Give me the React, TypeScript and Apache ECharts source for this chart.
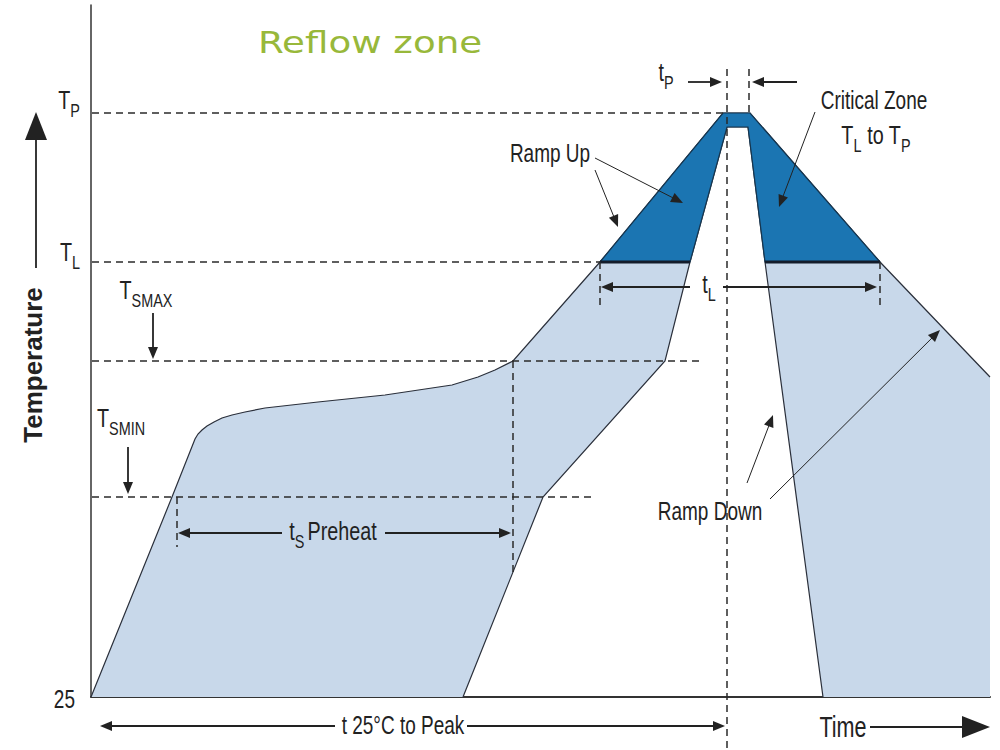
import React, { useEffect, useRef } from "react";
import * as echarts from "echarts";

type Pt = [number, number];
type Seg = [number, number, number, number];

// Axis ranges (time units from start, temperature units above the 25 °C baseline)
const TIME_MAX = 899;
const TEMP_MAX = 692;

// Temperature levels
const T_AMBIENT = 0;
const T_SMIN = 200;
const T_SMAX = 336;
const T_L = 435;
const T_P = 584;
const T_NOTCH = 570;

// Upper/outer boundary of the allowed profile band (left to right)
const OUTER_EDGE: Pt[] = [
  [0, T_AMBIENT], [81, T_SMIN], [104, 258], [107, 263], [111, 267], [116, 271],
  [123, 275], [131, 279], [141, 282], [154, 285], [174, 289], [227, 295],
  [294, 302], [361, 312], [387, 320], [404, 327], [422, T_SMAX], [509, T_L],
  [632, T_P], [659, T_P], [789, T_L], [899, 320],
];
const BAND_CORNER: Pt = [899, T_AMBIENT];
// Lower/inner boundary of the band (right to left)
const INNER_EDGE: Pt[] = [
  [732, T_AMBIENT], [674, T_L], [657, T_NOTCH], [636, T_NOTCH], [599, T_L],
  [574, T_SMAX], [452, T_SMIN], [372, T_AMBIENT],
];
// Critical zone TL..TP
const CRITICAL_ZONE: Pt[] = [
  [509, T_L], [632, T_P], [659, T_P], [789, T_L], [674, T_L], [657, T_NOTCH], [636, T_NOTCH], [599, T_L],
];
const TL_EDGES: Seg[] = [
  [509, T_L, 599, T_L],
  [674, T_L, 789, T_L],
];

const DASHED_LINES: Seg[] = [
  [1, T_P, 632, T_P],
  [1, T_L, 509, T_L],
  [1, T_SMAX, 613, T_SMAX],
  [1, T_SMIN, 501, T_SMIN],
  [86, T_SMIN, 86, 150],
  [422, T_SMAX, 422, 124],
  [509, T_L, 509, 392],
  [789, T_L, 789, 392],
  [636, 628, 636, -53],
  [658, 628, 658, T_P],
];

// Arrows: start x, start y, tip x, tip y
const DIM_ARROWS: Seg[] = [
  [597, 615, 631, 615],
  [706, 615, 661, 615],
  [599, 410, 510, 410],
  [632, 410, 786, 410],
  [191, 164, 87, 164],
  [294, 164, 420, 164],
  [244, -29, 9, -29],
  [376, -29, 634, -29],
  [62, 384, 62, 338],
  [37, 250, 37, 203],
];
const AXIS_ARROWS: Seg[] = [
  [-55, 429, -55, 585],
  [779, -30, 899, -30],
];
const POINTER_ARROWS: Seg[] = [
  [504, 539, 592, 494],
  [504, 527, 527, 470],
  [724, 585, 688, 490],
  [656, 214, 682, 282],
  [679, 198, 849, 367],
];

type Label = { text: string; x: number; y: number; kind: string };
const LABELS: Label[] = [
  { text: "{t|T}{s|P}", x: -11, y: 597, kind: "tick" },
  { text: "{t|T}{s|L}", x: -11, y: 445, kind: "tick" },
  { text: "25", x: -16, y: -3, kind: "tick" },
  { text: "{t|T}{s|SMAX}", x: 55, y: 407, kind: "note" },
  { text: "{t|T}{s|SMIN}", x: 30, y: 279, kind: "note" },
  { text: "{t|t}{s|P}", x: 575, y: 625, kind: "note" },
  { text: "{t|t}{s|L}", x: 618, y: 413, kind: "note" },
  { text: "{t|t}{s|S}{g|Preheat}", x: 242, y: 166, kind: "note" },
  { text: "Ramp Up", x: 459, y: 543, kind: "note" },
  { text: "Critical Zone", x: 783, y: 596, kind: "note" },
  { text: "{t|T}{s|L}{t| to T}{s|P}", x: 785, y: 562, kind: "note" },
  { text: "Ramp Down", x: 619, y: 185, kind: "note" },
  { text: "t 25°C to Peak", x: 312, y: -29, kind: "note" },
  { text: "Time", x: 752, y: -30, kind: "time" },
  { text: "Temperature", x: -58, y: 332, kind: "axisTitle" },
  { text: "Reflow zone", x: 279, y: 655, kind: "title" },
];

const FONT = '"Liberation Sans", Arial, sans-serif';
const INK = "#222222";
const LIGHT = "#c8d8ea";
const DARK = "#1b75b2";
const EDGE = "#2a2f3a";

const KIND_STYLE: Record<string, any> = {
  tick: { fontSize: 25, scaleX: 0.76, align: "right", fill: INK, fontFamily: FONT, fontWeight: "normal" },
  note: { fontSize: 25, scaleX: 0.76, align: "center", fill: INK, fontFamily: FONT, fontWeight: "normal" },
  time: { fontSize: 30, scaleX: 0.72, align: "center", fill: INK, fontFamily: FONT, fontWeight: "normal" },
  axisTitle: { fontSize: 26, scaleX: 1, align: "center", fill: INK, fontFamily: FONT, fontWeight: "bold", rotation: Math.PI / 2 },
  title: { fontSize: 31, scaleX: 1.2, align: "center", fill: "#98b83a", fontFamily: '"DejaVu Sans", sans-serif', fontWeight: "normal" },
};

const RICH = {
  t: { fontSize: 26, lineHeight: 26, verticalAlign: "top", fontFamily: FONT, fill: INK },
  g: { fontSize: 26, lineHeight: 26, verticalAlign: "top", fontFamily: FONT, fill: INK, padding: [0, 0, 0, 4] },
  s: { fontSize: 19, lineHeight: 48, fontFamily: FONT, fill: INK },
};

function polygonSeries(name: string, points: Pt[], fill: string, stroke: string | null, z: number) {
  return {
    type: "custom",
    name,
    z,
    silent: true,
    data: [[0, 0]],
    renderItem: (_p: any, api: any) => ({
      type: "polygon",
      shape: { points: points.map((q) => api.coord(q)) },
      style: { fill, stroke: stroke || "none", lineWidth: stroke ? 1.2 : 0 },
    }),
  };
}

function segmentSeries(name: string, rows: Seg[], stroke: string, width: number, dash: number[] | null, z: number) {
  return {
    type: "custom",
    name,
    z,
    silent: true,
    data: rows,
    renderItem: (_p: any, api: any) => {
      const a = api.coord([api.value(0), api.value(1)]);
      const b = api.coord([api.value(2), api.value(3)]);
      return {
        type: "line",
        shape: { x1: a[0], y1: a[1], x2: b[0], y2: b[1] },
        style: { stroke, lineWidth: width, lineDash: dash || undefined },
      };
    },
  };
}

function arrowSeries(name: string, rows: Seg[], len: number, halfW: number, width: number, z: number) {
  return {
    type: "custom",
    name,
    z,
    silent: true,
    data: rows,
    renderItem: (_p: any, api: any) => {
      const a = api.coord([api.value(0), api.value(1)]);
      const b = api.coord([api.value(2), api.value(3)]);
      const dx = b[0] - a[0];
      const dy = b[1] - a[1];
      const d = Math.hypot(dx, dy) || 1;
      const ux = dx / d;
      const uy = dy / d;
      const bx = b[0] - ux * len;
      const by = b[1] - uy * len;
      const nx = -uy;
      const ny = ux;
      return {
        type: "group",
        children: [
          { type: "line", shape: { x1: a[0], y1: a[1], x2: bx + ux * 2, y2: by + uy * 2 }, style: { stroke: INK, lineWidth: width } },
          {
            type: "polygon",
            shape: { points: [[b[0], b[1]], [bx + nx * halfW, by + ny * halfW], [bx - nx * halfW, by - ny * halfW]] },
            style: { fill: INK },
          },
        ],
      };
    },
  };
}

const option: any = {
  animation: false,
  backgroundColor: "#ffffff",
  grid: { left: 91, right: 10, top: 5, bottom: 53 },
  xAxis: {
    type: "value",
    min: 0,
    max: TIME_MAX,
    axisLine: { show: true, lineStyle: { color: "#333", width: 2 } },
    axisTick: { show: false },
    axisLabel: { show: false },
    splitLine: { show: false },
  },
  yAxis: {
    type: "value",
    min: 0,
    max: TEMP_MAX,
    axisLine: { show: true, lineStyle: { color: "#333", width: 1.5 } },
    axisTick: { show: false },
    axisLabel: { show: false },
    splitLine: { show: false },
  },
  series: [
    {
      type: "custom",
      name: "Profile band",
      z: 1,
      silent: true,
      data: [[0, 0]],
      renderItem: (_p: any, api: any) => {
        const band = [...OUTER_EDGE, BAND_CORNER, ...INNER_EDGE].map((q) => api.coord(q));
        return {
          type: "group",
          children: [
            { type: "polygon", shape: { points: band }, style: { fill: LIGHT } },
            { type: "polyline", shape: { points: OUTER_EDGE.map((q) => api.coord(q)) }, style: { stroke: EDGE, lineWidth: 1.2, fill: "none" } },
            { type: "polyline", shape: { points: INNER_EDGE.map((q) => api.coord(q)) }, style: { stroke: EDGE, lineWidth: 1.2, fill: "none" } },
          ],
        };
      },
    },
    polygonSeries("Critical zone", CRITICAL_ZONE, DARK, "#163650", 2),
    segmentSeries("TL edge", TL_EDGES, "#131c2b", 3, null, 3),
    segmentSeries("Guides", DASHED_LINES, "#2a2a2a", 1.5, [7, 5], 4),
    arrowSeries("Dimension arrows", DIM_ARROWS, 12, 5, 1.8, 5),
    arrowSeries("Axis arrows", AXIS_ARROWS, 28, 11, 1.8, 5),
    arrowSeries("Pointers", POINTER_ARROWS, 12, 5, 1, 5),
    {
      type: "custom",
      name: "Labels",
      z: 6,
      silent: true,
      data: LABELS.map((l) => [l.x, l.y]),
      renderItem: (params: any, api: any) => {
        const l = LABELS[params.dataIndex];
        const k = KIND_STYLE[l.kind];
        const p = api.coord([api.value(0), api.value(1)]);
        const rich = l.text.indexOf("{") >= 0;
        return {
          type: "text",
          x: p[0],
          y: rich ? p[1] - 13 : p[1],
          rotation: k.rotation || 0,
          scaleX: k.scaleX,
          scaleY: 1,
          style: {
            text: l.text,
            fill: k.fill,
            fontSize: k.fontSize,
            fontFamily: k.fontFamily,
            fontWeight: k.fontWeight,
            align: k.align,
            verticalAlign: rich ? "top" : "middle",
            rich: rich ? RICH : undefined,
          },
        };
      },
    },
  ],
};

export default function App() {
  const ref = useRef<HTMLDivElement>(null);
  useEffect(() => {
    const chart = echarts.init(ref.current!, null, { renderer: "svg" });
    chart.setOption(option);
    return () => chart.dispose();
  }, []);
  return (
    <div
      ref={ref}
      style={{ position: "absolute", left: 0, top: 0, width: 1000, height: 750, background: "#fff" }}
    />
  );
}
